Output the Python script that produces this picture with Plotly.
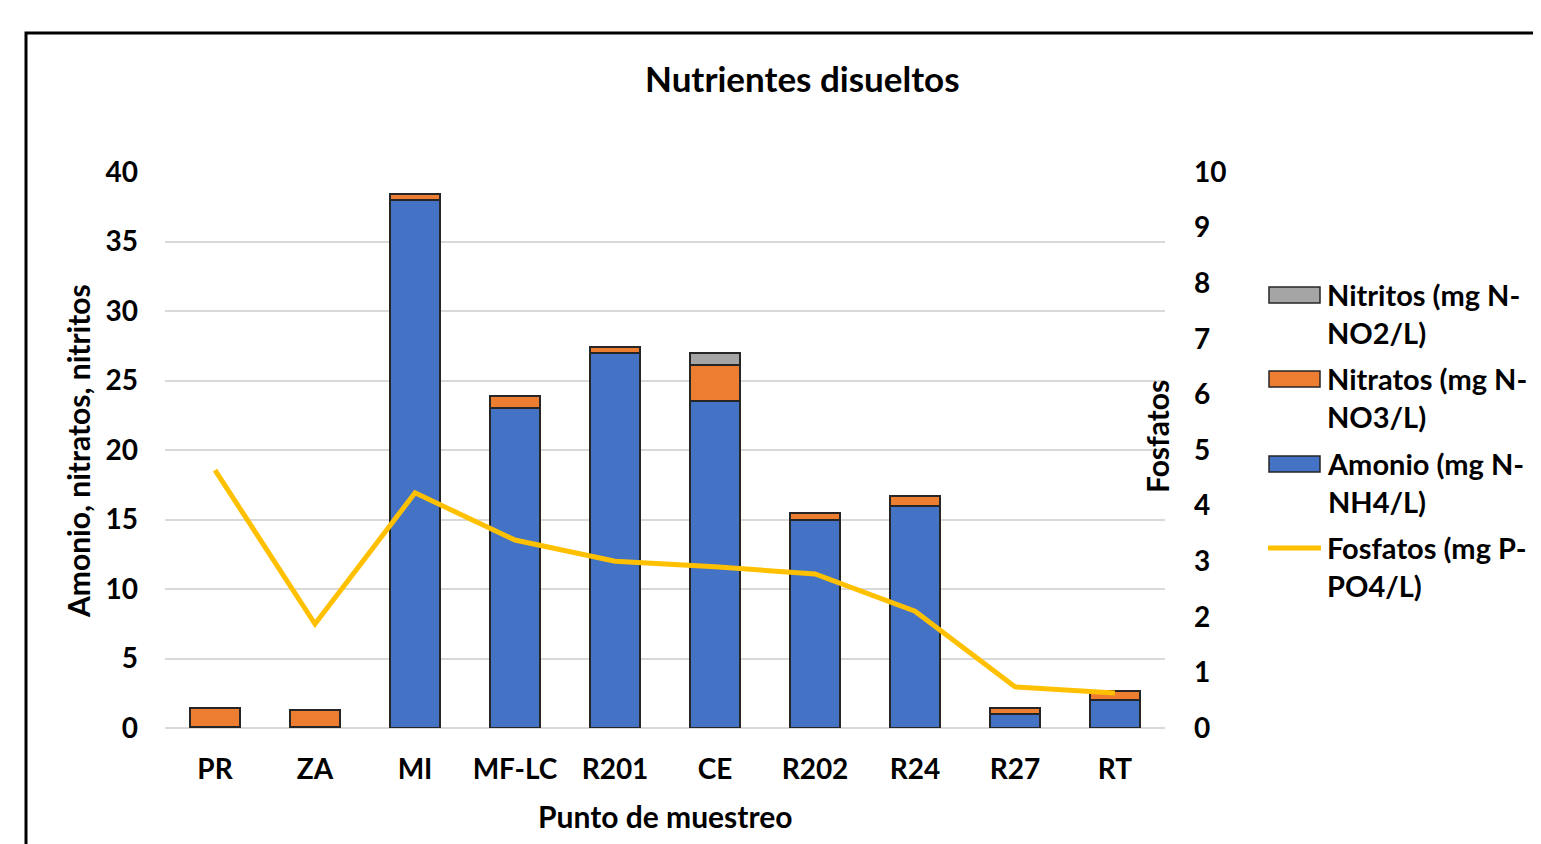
import plotly.graph_objects as go

categories = ["PR", "ZA", "MI", "MF-LC", "R201", "CE", "R202", "R24", "R27", "RT"]
amonio = [0.05, 0.05, 38.0, 23.0, 27.0, 23.5, 15.0, 16.0, 1.0, 2.0]
nitratos = [1.4, 1.25, 0.45, 0.85, 0.4, 2.6, 0.5, 0.7, 0.45, 0.65]
nitritos = [0.0, 0.0, 0.0, 0.0, 0.0, 0.9, 0.0, 0.0, 0.0, 0.0]
fosfatos = [4.64, 1.87, 4.23, 3.38, 3.0, 2.9, 2.77, 2.1, 0.74, 0.63]
left_ticks = [0, 5, 10, 15, 20, 25, 30, 35, 40]
right_ticks = [0, 1, 2, 3, 4, 5, 6, 7, 8, 9, 10]

name_amonio = "Amonio (mg N-<br>NH4/L)"
name_nitratos = "Nitratos (mg N-<br>NO3/L)"
name_nitritos = "Nitritos (mg N-<br>NO2/L)"
name_fosfatos = "Fosfatos (mg P-<br>PO4/L)"

C_AM, C_NA, C_NI, C_FO = "#4472C4", "#ED7D31", "#A5A5A5", "#FFC000"
EDGE = "#262626"

FONT = "Lato"
TICK = 28
outline = dict(color=EDGE, width=2)

fig = go.Figure()
fig.add_trace(go.Bar(x=categories, y=amonio, name=name_amonio,
                     marker=dict(color=C_AM, line=outline)))
fig.add_trace(go.Bar(x=categories, y=nitratos, name=name_nitratos,
                     marker=dict(color=C_NA, line=outline)))
fig.add_trace(go.Bar(x=categories, y=nitritos, name=name_nitritos,
                     marker=dict(color=C_NI, line=outline)))
fig.add_trace(go.Scatter(x=categories, y=fosfatos, name=name_fosfatos,
                         mode="lines", line=dict(color=C_FO, width=5),
                         yaxis="y2"))

# page offset (body margin 8px); page coords -> paper coords
W, H = 1541, 844
OFF = 8
PL, PR_, PT, PB = 165, 1165, 172, 728  # plot area in page coords
L, T = PL - OFF, PT - OFF
R = W - (PR_ - OFF)
B = H - (PB - OFF)
pw, ph = PR_ - PL, PB - PT


def px(x):
    return (x - PL) / pw


def py(y):
    return (PB - y) / ph


def bfont(size):
    return dict(size=size, family=FONT, weight="bold", color="black")


def ann(text, x, y, size, angle=0, xanchor="center"):
    return dict(text=text, x=px(x), y=py(y), xref="paper", yref="paper",
                xanchor=xanchor, yanchor="middle", align="left", textangle=angle,
                showarrow=False, font=bfont(size))


annotations = [
    ann("Nutrientes disueltos", 802, 78, 35),
    ann("Amonio, nitratos, nitritos", 78, 451, 30, -90),
    ann("Fosfatos", 1157, 437, 30, -90),
    ann("Punto de muestreo", 665, 816, 30),
]

shapes = [
    dict(type="rect", xref="paper", yref="paper", x0=px(26), x1=px(1580),
         y0=py(33), y1=py(880), line=dict(color="black", width=3)),
]

# custom legend (wide swatches like the original)
legend_items = [
    (name_nitritos, C_NI, "box", 295),
    (name_nitratos, C_NA, "box", 379),
    (name_amonio, C_AM, "box", 464),
    (name_fosfatos, C_FO, "line", 548),
]
for name, color, kind, yline in legend_items:
    if kind == "box":
        shapes.append(dict(type="rect", xref="paper", yref="paper",
                           x0=px(1269), x1=px(1320), y0=py(yline - 8), y1=py(yline + 8),
                           fillcolor=color, line=dict(color=EDGE, width=1.5)))
    else:
        shapes.append(dict(type="line", xref="paper", yref="paper",
                           x0=px(1268), x1=px(1321), y0=py(yline), y1=py(yline),
                           line=dict(color=color, width=5)))
    annotations.append(ann(name, 1325, yline + 18, 29, xanchor="left"))

fig.update_layout(
    width=W, height=H,
    margin=dict(l=L, r=R, t=T, b=B),
    paper_bgcolor="white", plot_bgcolor="white",
    barmode="stack", bargap=0.5,
    font=bfont(TICK),
    showlegend=False,
    xaxis=dict(showgrid=False, showline=False, ticks="", ticklabelstandoff=22,
               tickfont=bfont(TICK)),
    yaxis=dict(range=[0, 40], tickvals=left_ticks, showgrid=True, gridcolor="#D9D9D9",
               gridwidth=1.5, zeroline=True, zerolinecolor="#D9D9D9", zerolinewidth=1.5,
               showline=False, ticks="", ticklabelstandoff=26,
               tickfont=bfont(TICK)),
    yaxis2=dict(range=[0, 10], tickvals=right_ticks, overlaying="y", side="right",
                showgrid=False, zeroline=False, showline=False, ticks="",
                ticklabelstandoff=28, tickfont=bfont(TICK)),
    annotations=annotations,
    shapes=shapes,
)

fig.write_html("out.html", post_script="document.body.style.overflow='hidden';")
